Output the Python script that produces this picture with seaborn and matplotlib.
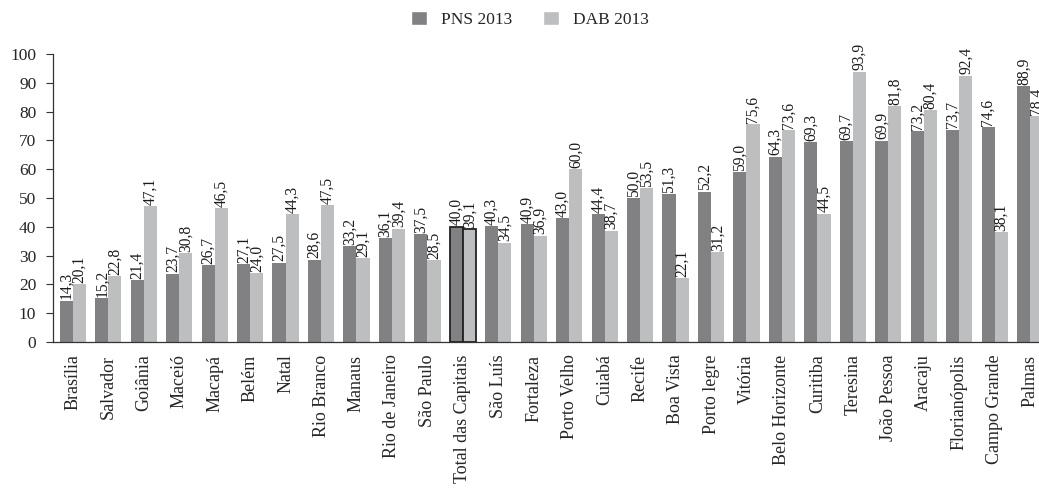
import matplotlib
matplotlib.use("Agg")
import matplotlib.pyplot as plt
import seaborn as sns
import pandas as pd

capitais = ["Brasília", "Salvador", "Goiânia", "Maceió", "Macapá", "Belém", "Natal",
            "Rio Branco", "Manaus", "Rio de Janeiro", "São Paulo", "Total das Capitais",
            "São Luís", "Fortaleza", "Porto Velho", "Cuiabá", "Recife", "Boa Vista",
            "Porto legre", "Vitória", "Belo Horizonte", "Curitiba", "Teresina",
            "João Pessoa", "Aracaju", "Florianópolis", "Campo Grande", "Palmas"]
pns_2013 = [14.3, 15.2, 21.4, 23.7, 26.7, 27.1, 27.5, 28.6, 33.2, 36.1, 37.5, 40.0,
            40.3, 40.9, 43.0, 44.4, 50.0, 51.3, 52.2, 59.0, 64.3, 69.3, 69.7, 69.9,
            73.2, 73.7, 74.6, 88.9]
dab_2013 = [20.1, 22.8, 47.1, 30.8, 46.5, 24.0, 44.3, 47.5, 29.1, 39.4, 28.5, 39.1,
            34.5, 36.9, 60.0, 38.7, 53.5, 22.1, 31.2, 75.6, 73.6, 44.5, 93.9, 81.8,
            80.4, 92.4, 38.1, 78.4]
series = ["PNS 2013", "DAB 2013"]
yticks = list(range(0, 101, 10))

df = pd.DataFrame({
    "cap": capitais * 2,
    "val": pns_2013 + dab_2013,
    "serie": [series[0]] * len(capitais) + [series[1]] * len(capitais),
})

sns.set_style("white")
plt.rcParams["font.family"] = ["Liberation Serif", "DejaVu Serif"]

fig = plt.figure(figsize=(10.39, 4.95), dpi=100)
ax = fig.add_axes([0.051, 0.309, 0.949, 0.582])

sns.barplot(data=df, x="cap", y="val", hue="serie", hue_order=series,
            palette=["#818184", "#bdbebf"], saturation=1, width=0.74,
            ax=ax, errorbar=None, legend=True)

total_idx = capitais.index("Total das Capitais")
for cont in ax.containers:
    for i, bar in enumerate(cont):
        if i == total_idx:
            bar.set_edgecolor("#222222")
            bar.set_linewidth(1.3)
        else:
            bar.set_linewidth(0)
    labels = [f"{v:.1f}".replace(".", ",") for v in cont.datavalues]
    ax.bar_label(cont, labels=labels, rotation=90, padding=1, fontsize=11.2,
                 color="#1a1a1a")

ax.set_ylim(0, 100)
ax.set_xlim(-0.56, len(capitais) - 1 + 0.25)
ax.set_yticks(yticks)
ax.set_yticklabels([str(t) for t in yticks], fontsize=12.5)
ax.tick_params(axis="y", length=5, width=0.8, color="#333333", pad=7, left=True)
ax.tick_params(axis="x", length=0, pad=9)
ax.set_xticks(range(len(capitais)))
ax.set_xticklabels(capitais, rotation=90, fontsize=13)
ax.set_xlabel("")
ax.set_ylabel("")
for s in ["top", "right"]:
    ax.spines[s].set_visible(False)
for s in ["left", "bottom"]:
    ax.spines[s].set_color("#333333")
    ax.spines[s].set_linewidth(0.9)

handles, lbls = ax.get_legend_handles_labels()
ax.get_legend().remove()
fig.legend(handles, lbls, loc="upper center", bbox_to_anchor=(0.51, 1.01), ncol=2,
           frameon=False, fontsize=12.5, handlelength=0.9, handleheight=0.9,
           columnspacing=1.8, handletextpad=0.8)

fig.savefig("out.png", dpi=100)
